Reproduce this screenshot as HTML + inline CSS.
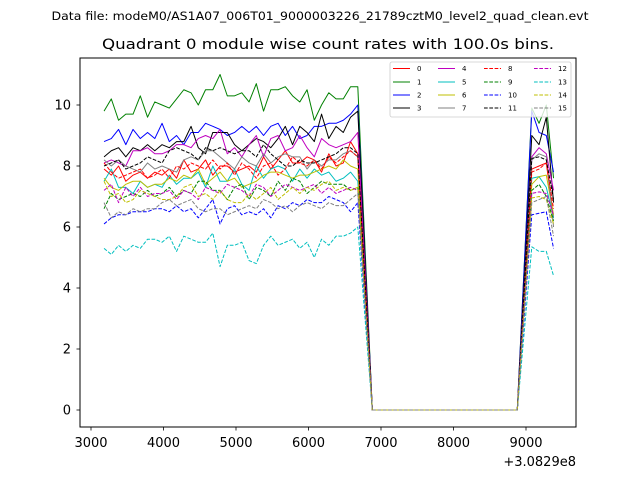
<!DOCTYPE html>
<html><head><meta charset="utf-8"><style>
body{margin:0;background:#fff;}
svg{display:block;font-family:"DejaVu Sans","Liberation Sans",sans-serif;}
</style></head><body>
<svg id="chart" width="640" height="480" viewBox="0 0 640 480" xmlns="http://www.w3.org/2000/svg">
<rect width="640" height="480" fill="#fff"/>
<text x="320" y="20" font-size="11.5" text-anchor="middle" textLength="537" lengthAdjust="spacingAndGlyphs">Data file: modeM0/AS1A07_006T01_9000003226_21789cztM0_level2_quad_clean.evt</text>
<text x="328" y="49" font-size="14.5" text-anchor="middle" textLength="452" lengthAdjust="spacingAndGlyphs">Quadrant 0 module wise count rates with 100.0s bins.</text>
<g id="plot"></g>
<rect x="80" y="58" width="496" height="369" fill="none" stroke="#000" stroke-width="1"/>
<g id="axes"></g>
<text x="576" y="466" font-size="13" text-anchor="end">+3.0829e8</text>
<g id="legend"></g>
</svg>
<script>
const xTicks=[3000,4000,5000,6000,7000,8000,9000];
const yTicks=[0,2,4,6,8,10];
const labels=["0","1","2","3","4","5","6","7","8","9","10","11","12","13","14","15"];
const colors=["#ff0000","#008000","#0000ff","#000000","#bf00bf","#00bfbf","#bfbf00","#808080","#ff0000","#008000","#0000ff","#000000","#bf00bf","#00bfbf","#bfbf00","#808080"];
const t1Start=3180, t2Start=9080, tStep=100, gapStart=6880, gapCount=21;
const s0=[7.9,7.7,8.0,7.5,7.7,7.8,7.6,7.8,7.7,7.9,7.6,8.2,7.8,7.9,8.2,7.7,8.0,8.0,7.8,7.9,8.0,7.8,8.3,7.9,8.2,8.5,8.1,8.1,8.3,8.2,7.8,8.4,8.0,8.1,8.8,8.4];
const s1=[9.8,10.2,9.5,9.7,9.7,10.3,9.6,10.1,10.0,9.9,10.2,10.5,10.4,10.0,10.5,10.5,11.0,10.3,10.3,10.4,10.1,10.7,9.8,10.5,10.5,10.6,10.3,10.1,10.5,9.5,10.0,10.4,10.2,10.2,10.6,10.6];
const s2=[8.8,8.9,9.2,8.7,9.2,8.9,9.1,8.9,9.4,8.8,9.0,8.7,9.1,9.1,9.4,9.3,9.2,9.0,9.1,9.3,9.1,9.3,9.0,9.3,9.4,9.0,9.3,8.9,9.0,9.3,9.3,9.4,9.4,9.5,9.7,10.0];
const s3=[8.3,8.5,8.6,8.3,8.6,8.5,8.7,8.5,8.7,8.6,8.8,8.8,9.3,8.6,8.4,9.1,9.1,9.1,8.7,8.5,8.7,8.9,8.8,8.6,8.9,9.3,8.7,9.3,9.1,8.8,9.7,8.9,9.3,9.1,9.6,9.8];
const s4=[8.1,8.2,8.1,8.0,8.5,8.5,8.6,8.4,8.4,8.5,8.7,8.7,8.6,8.9,9.0,8.9,9.2,8.4,8.6,8.3,8.7,9.0,8.3,8.9,9.0,8.5,8.6,9.0,8.6,8.3,8.9,8.7,8.6,8.7,8.8,9.1];
const s5=[7.5,7.9,7.3,7.3,7.1,7.5,7.3,7.4,7.3,7.7,7.4,7.6,7.6,7.8,7.3,8.0,7.5,7.5,7.9,7.4,7.2,8.0,7.6,7.9,8.0,7.9,7.5,7.9,7.6,7.9,7.7,7.8,7.5,7.6,7.8,7.5];
const s6=[7.6,7.3,7.2,7.4,7.5,7.5,7.3,7.4,7.4,7.6,7.5,7.7,7.6,7.9,7.4,7.6,7.8,7.5,7.6,7.3,7.4,7.5,7.7,7.8,7.8,7.7,7.6,7.7,7.7,7.8,7.9,8.0,7.9,8.2,8.0,7.9];
const s7=[8.2,8.0,8.2,8.0,7.9,7.8,8.1,7.9,8.0,7.9,7.8,8.2,8.3,8.2,8.5,8.5,8.3,8.1,7.9,8.3,8.1,8.0,8.4,8.1,8.3,8.4,8.3,8.3,7.9,8.2,8.0,8.2,8.2,8.4,8.5,8.3];
const s8=[8.1,7.8,7.6,7.7,7.8,7.9,7.6,7.7,7.9,7.6,8.0,7.9,8.1,8.0,7.9,8.2,7.9,8.1,7.7,8.1,7.9,7.6,8.0,8.1,7.7,7.9,8.3,8.1,8.0,8.2,7.9,8.3,8.1,8.3,8.5,8.3];
const s9=[6.6,7.1,6.9,7.0,7.1,7.0,7.2,7.0,7.1,7.3,7.0,7.2,7.1,7.5,7.5,7.2,7.2,6.9,7.3,7.4,6.9,7.3,7.2,7.0,7.5,7.2,7.6,7.5,7.1,7.3,7.5,7.4,7.4,7.4,7.2,7.3];
const s10=[6.1,6.3,6.4,6.4,6.5,6.5,6.5,6.6,6.6,6.5,6.7,6.5,6.6,6.3,6.6,6.9,6.1,6.6,6.7,6.4,6.5,6.4,6.6,6.3,6.7,6.6,6.8,6.7,6.9,6.8,6.8,7.0,6.9,6.8,6.5,6.8];
const s11=[8.0,8.1,8.2,7.9,8.0,8.1,8.3,8.2,8.1,8.5,8.6,8.5,8.4,8.2,8.6,8.5,8.6,8.5,8.4,8.5,8.5,8.3,8.7,8.4,8.2,8.0,8.0,8.2,8.1,8.1,8.2,8.3,8.4,8.6,8.6,8.4];
const s12=[7.2,7.4,6.8,7.3,7.0,7.3,7.0,7.1,7.1,7.2,6.9,7.2,7.1,6.9,7.3,7.2,7.1,7.4,7.3,7.2,7.0,7.4,7.3,7.0,7.2,7.4,7.3,7.2,7.3,7.4,7.1,7.3,7.1,7.2,7.3,7.2];
const s13=[5.3,5.1,5.4,5.2,5.4,5.3,5.6,5.6,5.5,5.7,5.2,5.7,5.6,5.5,5.5,5.8,4.7,5.4,5.4,5.5,4.9,4.8,5.4,5.7,5.4,5.5,5.6,5.3,5.5,5.0,5.6,5.4,5.7,5.7,5.8,6.0];
const s14=[7.5,7.0,7.1,6.8,6.9,7.2,7.1,7.0,6.9,6.9,7.0,7.3,7.4,7.0,7.1,6.9,7.2,6.9,6.8,6.8,7.1,6.9,7.1,7.3,6.9,7.1,7.3,7.1,7.3,7.2,7.4,7.5,7.2,7.3,7.2,7.3];
const s15=[6.8,6.3,6.5,6.4,6.6,6.5,6.6,6.6,6.8,6.9,6.7,6.8,6.9,6.6,6.5,6.6,6.6,6.4,6.5,6.6,6.7,6.6,6.9,6.8,6.6,6.7,6.5,6.7,6.8,6.7,6.6,6.8,6.7,6.7,6.9,7.1];
const r0=[7.9,8.0,8.1,6.3];
const r1=[9.9,9.4,10.0,7.6];
const r2=[9.8,9.1,9.0,7.8];
const r3=[9.0,8.7,9.6,6.8];
const r4=[8.3,8.6,8.4,7.2];
const r5=[7.6,7.65,7.3,6.3];
const r6=[7.4,7.65,7.7,6.4];
const r7=[8.2,8.4,8.3,6.0];
const r8=[7.8,7.9,8.1,6.6];
const r9=[7.2,7.4,7.0,6.2];
const r10=[6.4,6.45,6.5,5.3];
const r11=[8.25,8.3,8.2,6.9];
const r12=[7.1,7.15,7.1,6.4];
const r13=[5.35,5.2,5.2,4.4];
const r14=[6.95,7.0,6.9,6.1];
const r15=[6.8,6.9,7.0,5.7];
const left=[s0,s1,s2,s3,s4,s5,s6,s7,s8,s9,s10,s11,s12,s13,s14,s15];
const right=[r0,r1,r2,r3,r4,r5,r6,r7,r8,r9,r10,r11,r12,r13,r14,r15];

const NS="http://www.w3.org/2000/svg";
function xs(t){return 91+(t-3000)*0.0725;}
function ys(v){return 410-v*30.5;}
function mk(tag,attrs,parent){const e=document.createElementNS(NS,tag);for(const k in attrs)e.setAttribute(k,attrs[k]);parent.appendChild(e);return e;}
const plot=document.getElementById('plot');
const axes=document.getElementById('axes');
const legend=document.getElementById('legend');

for(let s=0;s<16;s++){
  const pts=[];
  left[s].forEach((v,i)=>pts.push([t1Start+i*tStep,v]));
  for(let i=0;i<gapCount;i++)pts.push([gapStart+i*tStep,0]);
  right[s].forEach((v,i)=>pts.push([t2Start+i*tStep,v]));
  const d=pts.map(p=>xs(p[0]).toFixed(2)+','+ys(p[1]).toFixed(2)).join(' ');
  const pl=mk('polyline',{points:d,fill:'none',stroke:colors[s],'stroke-width':1,'stroke-linejoin':'round'},plot);
  if(s>=8)pl.setAttribute('stroke-dasharray','3.7,1.6');
  
  
}

xTicks.forEach(t=>{
  const x=xs(t);
  const tk=mk('line',{x1:x,x2:x,y1:427,y2:430.5,stroke:'#000','stroke-width':0.8},axes);
  
  
  const tx=mk('text',{x:x,y:447,'font-size':13,'text-anchor':'middle'},axes);
  tx.textContent=t;
  
  
});
yTicks.forEach(v=>{
  const y=ys(v);
  const tk=mk('line',{x1:76.5,x2:80,y1:y,y2:y,stroke:'#000','stroke-width':0.8},axes);
  
  
  const tx=mk('text',{x:71,y:y+4.7,'font-size':13,'text-anchor':'end'},axes);
  tx.textContent=v;
  
  
});

const lb=mk('rect',{x:390,y:62,width:181,height:55,rx:2,fill:'#fff','fill-opacity':0.8,stroke:'#ccc','stroke-width':0.8},legend);


const colX=[393,438,484,534];
const rowY=[68.5,82,95,108];
for(let s=0;s<16;s++){
  const c=Math.floor(s/4), r=s%4;
  const g=mk('g',{},legend);
  
  
  const ln=mk('line',{x1:colX[c],x2:colX[c]+17,y1:rowY[r],y2:rowY[r],stroke:colors[s],'stroke-width':1},g);
  if(s>=8)ln.setAttribute('stroke-dasharray','3.7,1.6');
  const tx=mk('text',{x:colX[c]+24,y:rowY[r]+2.5,'font-size':7},g);
  tx.textContent=labels[s];
}
</script>
</body></html>
